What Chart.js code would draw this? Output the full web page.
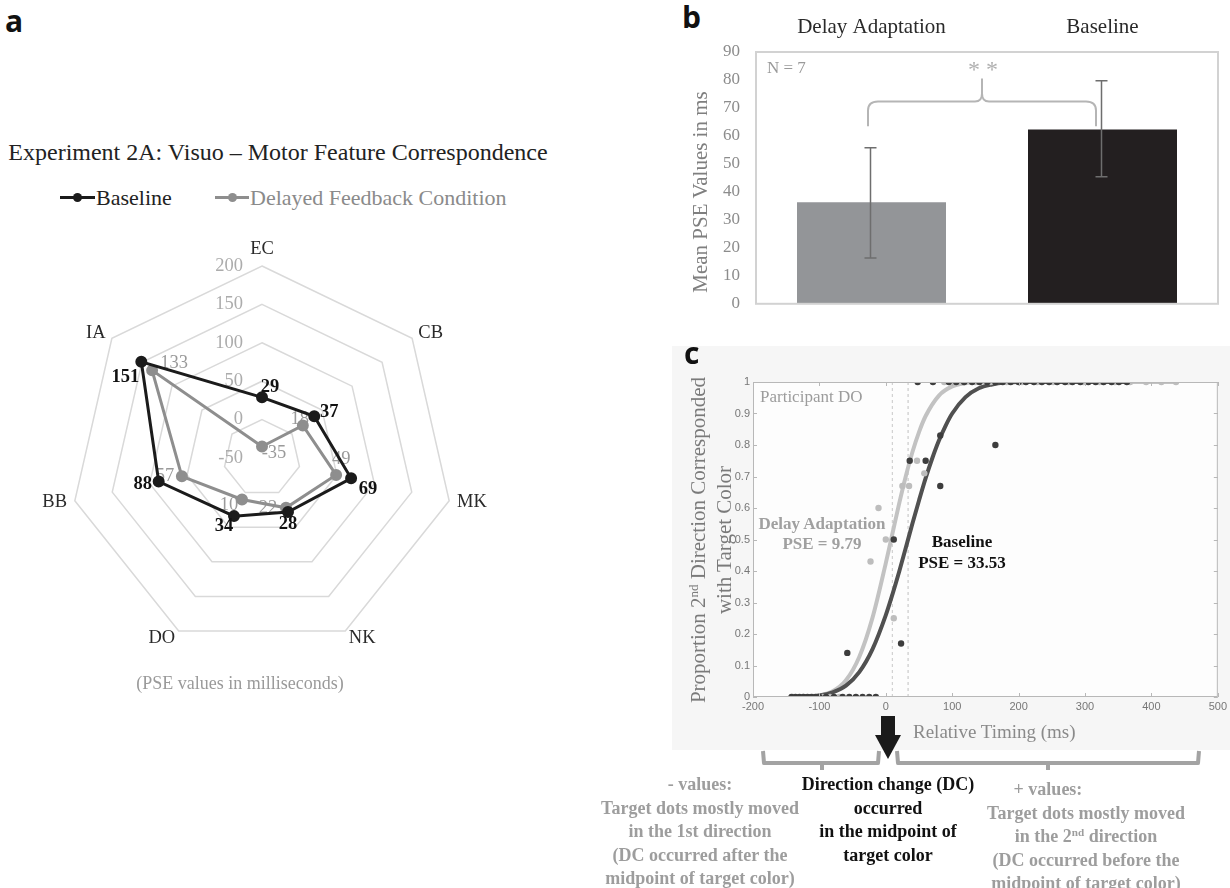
<!DOCTYPE html>
<html>
<head>
<meta charset="utf-8">
<script src="https://cdn.jsdelivr.net/npm/chart.js@4.4.1/dist/chart.umd.min.js"></script>
<style>
  body { margin: 0; width: 1230px; height: 888px; background: #fff; position: relative; overflow: hidden;
         font-family: "Liberation Serif", "Times New Roman", serif; }
  .abs { position: absolute; white-space: nowrap; font-family: "Liberation Serif", "Times New Roman", serif; }
  .letter { font-family: "Open Sans", "Liberation Sans", sans-serif; font-weight: 700; font-size: 30px; line-height: 30px; color: #111; }
  .rot { position: absolute; transform: rotate(-90deg); text-align: center; white-space: nowrap; font-family: "Liberation Serif", "Times New Roman", serif; }
  .note { font-weight: 700; font-size: 18px; line-height: 23.5px; text-align: center; }
  sup { font-size: 0.62em; line-height: 0; vertical-align: 0.55em; }
</style>
</head>
<body>

<!-- panel a -->
<div class="abs letter" style="left:5px; top:6px;">a</div>
<div class="abs" style="left:0; top:139px; width:556px; text-align:center; font-size:24px; line-height:26px; color:#222;">Experiment 2A: Visuo – Motor Feature Correspondence</div>
<div class="abs" style="left:60px; top:196px; width:35px; height:3px; background:#1b1b1b;"></div>
<div class="abs" style="left:73px; top:193px; width:9px; height:9px; border-radius:50%; background:#1b1b1b;"></div>
<div class="abs" style="left:96px; top:185px; font-size:22px; line-height:26px; color:#222;">Baseline</div>
<div class="abs" style="left:215px; top:196px; width:34px; height:3px; background:#8e8e8e;"></div>
<div class="abs" style="left:228px; top:193px; width:9px; height:9px; border-radius:50%; background:#8e8e8e;"></div>
<div class="abs" style="left:250px; top:185px; font-size:22px; line-height:26px; color:#8a8a8a;">Delayed Feedback Condition</div>
<canvas id="radar" class="abs" width="524" height="460" style="left:0; top:230px;"></canvas>
<div class="abs" style="left:40px; top:671px; width:400px; text-align:center; font-size:18px; line-height:24px; color:#9a9a9a;">(PSE values in milliseconds)</div>

<!-- panel b -->
<div class="abs letter" style="left:682px; top:2px;">b</div>
<canvas id="bars" class="abs" width="550" height="330" style="left:680px; top:0;"></canvas>
<div class="rot" style="left:590px; top:180px; width:220px; font-size:21px; line-height:24px; color:#7f7f7f;">Mean PSE Values in ms</div>

<!-- panel c -->
<div class="abs" style="left:672px; top:346px; width:558px; height:404px; background:#f6f6f6;"></div>
<div class="abs letter" style="left:684px; top:338px;">c</div>
<canvas id="curves" class="abs" width="550" height="400" style="left:680px; top:360px;"></canvas>
<div class="rot" style="left:531px; top:514px; width:360px; font-size:21px; line-height:26px; color:#7a7a7a;">Proportion 2<sup>nd</sup> Direction Corresponded<br>with Target Color</div>
<div class="abs" style="left:913px; top:721px; font-size:19px; line-height:22px; color:#8a8a8a;">Relative Timing (ms)</div>
<div class="abs" style="left:760px; top:387px; font-size:17px; line-height:20px; color:#9c9c9c;">Participant DO</div>
<div class="abs note" style="left:742px; top:514px; width:160px; font-size:17px; line-height:20px; color:#a0a0a0;">Delay Adaptation<br>PSE = 9.79</div>
<div class="abs note" style="left:882px; top:531px; width:160px; font-size:17px; line-height:21px; color:#111;">Baseline<br>PSE = 33.53</div>

<svg class="abs" style="left:0; top:0;" width="1230" height="888">
  <rect x="881" y="716" width="14" height="20" fill="#1a1a1a"/>
  <polygon points="875,735 901,735 888,759" fill="#1a1a1a"/>
  <polyline points="763,751 764,763 878,763 879,751" fill="none" stroke="#a3a3a3" stroke-width="4" stroke-linejoin="round"/>
  <line x1="822" y1="763" x2="822" y2="770" stroke="#a3a3a3" stroke-width="4"/>
  <polyline points="897,751 898,763 1198,763 1199,751" fill="none" stroke="#a3a3a3" stroke-width="4" stroke-linejoin="round"/>
  <line x1="1048" y1="763" x2="1048" y2="770" stroke="#a3a3a3" stroke-width="4"/>
</svg>

<div class="abs note" style="left:580px; top:773px; width:240px; color:#9d9d9d;">- values:<br>Target dots mostly moved<br>in the 1st direction<br>(DC occurred after the<br>midpoint of target color)</div>
<div class="abs note" style="left:778px; top:773px; width:220px; color:#111;">Direction change (DC)<br>occurred<br>in the midpoint of<br>target color</div>
<div class="abs note" style="left:968px; top:778px; width:160px; color:#9d9d9d;">+ values:</div>
<div class="abs note" style="left:966px; top:801.5px; width:240px; color:#9d9d9d;">Target dots mostly moved<br>in the 2<sup>nd</sup> direction<br>(DC occurred before the<br>midpoint of target color)</div>

<script>
// panel a: PSE values per participant
const radarAxes = ['EC', 'CB', 'MK', 'NK', 'DO', 'BB', 'IA'];
const baselinePSE = [29, 37, 69, 28, 34, 88, 151];
const delayedPSE = [-35, 18, 49, 22, 10, 57, 133];
const radarTicks = [-50, 0, 50, 100, 150, 200];

// panel b: group means with error bars
const barLabels = ['Delay Adaptation', 'Baseline'];
const barMeans = [36.3, 62.3];
const barErrLow = [16.4, 45.4];
const barErrHigh = [55.8, 79.7];
const barTicks = [0, 10, 20, 30, 40, 50, 60, 70, 80, 90];

// panel c: psychometric fits and observed proportions (participant DO)
const fitBaseX = [-140, -120, -100, -80, -60, -40, -20, 0, 10, 20, 30, 40, 50, 60, 70, 80, 90, 100, 120, 140, 160, 180, 200, 260, 367];
const fitBaseY = [0, 0.002, 0.005, 0.015, 0.036, 0.079, 0.152, 0.26, 0.326, 0.397, 0.473, 0.55, 0.624, 0.695, 0.758, 0.814, 0.861, 0.9, 0.952, 0.98, 0.992, 0.998, 1, 1, 1];
const fitDelayX = [-140, -120, -100, -80, -60, -40, -20, 0, 10, 20, 30, 40, 50, 60, 80, 100, 120, 140, 200, 300, 437];
const fitDelayY = [0, 0.001, 0.005, 0.018, 0.053, 0.127, 0.252, 0.425, 0.519, 0.613, 0.7, 0.777, 0.841, 0.892, 0.957, 0.986, 0.996, 0.999, 1, 1, 1];
const obsBaseX = [-142, -136, -130, -124, -118, -112, -106, -100, -90, -78, -65, -55, -45, -35, -25, -15,
                  -58, 12, 23, 36, 60, 82, 82, 165,
                  48, 71, 95, 106, 118, 130, 141, 153, 165, 176, 188, 200, 211, 223, 235, 246, 258, 270, 281, 293, 305, 316, 328, 340, 351, 363];
const obsBaseY = [0, 0, 0, 0, 0, 0, 0, 0, 0, 0, 0, 0, 0, 0, 0, 0,
                  0.14, 0.5, 0.17, 0.75, 0.75, 0.83, 0.67, 0.8,
                  1, 1, 1, 1, 1, 1, 1, 1, 1, 1, 1, 1, 1, 1, 1, 1, 1, 1, 1, 1, 1, 1, 1, 1, 1, 1];
const obsDelayX = [-140, -125, -110, -95, -84, -70,
                   -23, -11, 0, 12, 25, 35, 47, 58,
                   88, 112, 135, 158, 182, 205, 228, 252, 275, 298, 322, 345, 368, 392, 415, 437];
const obsDelayY = [0, 0, 0, 0, 0, 0,
                   0.43, 0.6, 0.5, 0.25, 0.67, 0.67, 0.75, 0.71,
                   1, 1, 1, 1, 1, 1, 1, 1, 1, 1, 1, 1, 1, 1, 1, 1];
const pseDelay = 9.79;
const pseBase = 33.53;
const timingTicks = [-200, -100, 0, 100, 200, 300, 400, 500];
const propTicks = [0, 0.1, 0.2, 0.3, 0.4, 0.5, 0.6, 0.7, 0.8, 0.9, 1];

const SERIF = '"Liberation Serif", "Times New Roman", serif';
const pairs = (xs, ys) => xs.map((x, i) => ({ x: x, y: ys[i] }));

// ---------- panel a ----------
// label offsets (px) from each point, same order as radarAxes
const baseLabelOff = [[8, -10], [15, -4], [17, 11], [0, 12], [-10, 10], [-16, 3], [-16, 15]];
const delayLabelOff = [[12, 7], [-3, -6], [5, -16], [-18, 0], [-13, 6], [-17, 0], [22, -7]];

const radarText = {
    id: 'radarText',
    beforeDatasetsDraw(chart) {
        const r = chart.scales.r;
        const ctx = chart.ctx;
        ctx.save();
        ctx.font = '18.5px ' + SERIF;
        ctx.fillStyle = '#acacac';
        ctx.textAlign = 'right';
        ctx.textBaseline = 'middle';
        radarTicks.forEach(v => {
            ctx.fillText(String(v), r.xCenter - 19, r.yCenter - r.getDistanceFromCenterForValue(v));
        });
        // axis names
        ctx.fillStyle = '#2a2a2a';
        radarAxes.forEach((name, i) => {
            const p = r.getPointPosition(i, r.drawingArea + 8);
            const dx = p.x - r.xCenter;
            ctx.textAlign = Math.abs(dx) < 2 ? 'center' : (dx > 0 ? 'left' : 'right');
            ctx.textBaseline = Math.abs(dx) < 2 ? 'bottom' : 'middle';
            ctx.fillText(name, p.x, p.y);
        });
        // delayed values (grey, under the lines)
        ctx.fillStyle = '#9a9a9a';
        ctx.textAlign = 'center';
        ctx.textBaseline = 'middle';
        delayedPSE.forEach((v, i) => {
            const p = r.getPointPositionForValue(i, v);
            ctx.fillText(String(v), p.x + delayLabelOff[i][0], p.y + delayLabelOff[i][1]);
        });
        ctx.restore();
    },
    afterDatasetsDraw(chart) {
        const r = chart.scales.r;
        const ctx = chart.ctx;
        ctx.save();
        ctx.font = 'bold 18.5px ' + SERIF;
        ctx.fillStyle = '#111';
        ctx.textAlign = 'center';
        ctx.textBaseline = 'middle';
        baselinePSE.forEach((v, i) => {
            const p = r.getPointPositionForValue(i, v);
            ctx.fillText(String(v), p.x + baseLabelOff[i][0], p.y + baseLabelOff[i][1]);
        });
        ctx.restore();
    }
};

new Chart(document.getElementById('radar'), {
    type: 'radar',
    data: {
        labels: radarAxes,
        datasets: [{
            label: 'Baseline',
            data: baselinePSE,
            borderColor: '#1b1b1b',
            backgroundColor: '#1b1b1b',
            pointBackgroundColor: '#1b1b1b',
            pointBorderColor: '#1b1b1b',
            borderWidth: 3,
            pointRadius: 4.5,
            fill: false
        }, {
            label: 'Delayed Feedback Condition',
            data: delayedPSE,
            borderColor: '#8e8e8e',
            backgroundColor: '#8e8e8e',
            pointBackgroundColor: '#8e8e8e',
            pointBorderColor: '#8e8e8e',
            borderWidth: 3,
            pointRadius: 4.5,
            fill: false
        }]
    },
    options: {
        responsive: false,
        animation: false,
        layout: { padding: { left: 70, right: 70, top: 36, bottom: 40 } },
        plugins: { legend: { display: false }, tooltip: { enabled: false } },
        scales: {
            r: {
                min: -50,
                max: 200,
                ticks: { display: false, stepSize: 50 },
                pointLabels: { display: false },
                angleLines: { display: false },
                grid: { color: '#d9d9d9', lineWidth: 1.5 }
            }
        }
    },
    plugins: [radarText]
});

// ---------- panel b ----------
const barExtras = {
    id: 'barExtras',
    afterDatasetsDraw(chart) {
        const ctx = chart.ctx;
        const x = chart.scales.x;
        const y = chart.scales.y;
        const area = chart.chartArea;
        ctx.save();
        // frame
        ctx.strokeStyle = '#d2d2d2';
        ctx.lineWidth = 2;
        ctx.strokeRect(area.left, area.top, area.right - area.left, area.bottom - area.top);
        // error bars
        ctx.strokeStyle = '#6e6e6e';
        ctx.lineWidth = 1.5;
        barMeans.forEach((m, i) => {
            const cx = x.getPixelForValue(i) - 1;
            const yl = y.getPixelForValue(barErrLow[i]);
            const yh = y.getPixelForValue(barErrHigh[i]);
            ctx.beginPath();
            ctx.moveTo(cx, yl); ctx.lineTo(cx, yh);
            ctx.moveTo(cx - 6, yl); ctx.lineTo(cx + 6, yl);
            ctx.moveTo(cx - 6, yh); ctx.lineTo(cx + 6, yh);
            ctx.stroke();
        });
        // significance brace
        const xl = x.getPixelForValue(0) - 3.5;
        const xr = x.getPixelForValue(1) - 6.5;
        const xm = (xl + xr) / 2;
        const yEnd = y.getPixelForValue(63.5);
        const yMid = y.getPixelForValue(72.3);
        const yPeak = y.getPixelForValue(80.5);
        ctx.strokeStyle = '#b5b5b5';
        ctx.lineWidth = 2;
        ctx.beginPath();
        ctx.moveTo(xl, yEnd);
        ctx.lineTo(xl, yMid + 9);
        ctx.quadraticCurveTo(xl, yMid, xl + 10, yMid);
        ctx.lineTo(xm - 7, yMid);
        ctx.quadraticCurveTo(xm, yMid, xm, yMid - 8);
        ctx.lineTo(xm, yPeak);
        ctx.moveTo(xm, yMid - 8);
        ctx.quadraticCurveTo(xm, yMid, xm + 7, yMid);
        ctx.lineTo(xr - 10, yMid);
        ctx.quadraticCurveTo(xr, yMid, xr, yMid + 9);
        ctx.lineTo(xr, yEnd);
        ctx.stroke();
        ctx.fillStyle = '#b0b0b0';
        ctx.font = '24px ' + SERIF;
        ctx.textAlign = 'center';
        ctx.textBaseline = 'middle';
        ctx.fillText('* *', xm + 1, y.getPixelForValue(83.2));
        ctx.fillStyle = '#9a9a9a';
        ctx.font = '17px ' + SERIF;
        ctx.textAlign = 'left';
        ctx.fillText('N = 7', area.left + 11, y.getPixelForValue(84));
        ctx.restore();
    }
};

new Chart(document.getElementById('bars'), {
    type: 'bar',
    data: {
        labels: barLabels,
        datasets: [{
            data: barMeans,
            backgroundColor: ['#939598', '#231f20'],
            barPercentage: 0.645,
            categoryPercentage: 1
        }]
    },
    options: {
        responsive: false,
        animation: false,
        layout: { padding: { left: 0, right: 12, top: 0, bottom: 20 } },
        plugins: { legend: { display: false }, tooltip: { enabled: false } },
        scales: {
            x: {
                position: 'top',
                grid: { display: false, drawTicks: false },
                border: { display: false },
                ticks: { color: '#2a2a2a', font: { family: SERIF, size: 21 }, padding: 12 },
                afterFit: s => { s.height = 52; }
            },
            y: {
                min: 0,
                max: 90,
                afterBuildTicks: s => { s.ticks = barTicks.map(v => ({ value: v })); },
                ticks: { color: '#8c8c8c', font: { family: SERIF, size: 17 }, padding: 16 },
                grid: { display: false, drawTicks: false },
                border: { display: false },
                afterFit: s => { s.width = 76; }
            }
        }
    },
    plugins: [barExtras]
});

// ---------- panel c ----------
const curveFrame = {
    id: 'curveFrame',
    beforeDatasetsDraw(chart) {
        const a = chart.chartArea;
        const ctx = chart.ctx;
        ctx.save();
        ctx.fillStyle = '#fdfdfd';
        ctx.fillRect(a.left, a.top, a.right - a.left, a.bottom - a.top);
        ctx.restore();
    },
    afterDraw(chart) {
        const a = chart.chartArea;
        const ctx = chart.ctx;
        const x = chart.scales.x;
        const y = chart.scales.y;
        ctx.save();
        ctx.strokeStyle = '#b8b8b8';
        ctx.lineWidth = 1;
        ctx.strokeRect(a.left + 0.5, a.top + 0.5, a.right - a.left - 1, a.bottom - a.top - 1);
        ctx.beginPath();
        timingTicks.forEach(v => {
            const px = Math.round(x.getPixelForValue(v)) + 0.5;
            ctx.moveTo(px, a.bottom); ctx.lineTo(px, a.bottom - 4);
            ctx.moveTo(px, a.top); ctx.lineTo(px, a.top + 4);
        });
        propTicks.forEach(v => {
            const py = Math.round(y.getPixelForValue(v)) + 0.5;
            ctx.moveTo(a.left, py); ctx.lineTo(a.left + 4, py);
            ctx.moveTo(a.right, py); ctx.lineTo(a.right - 4, py);
        });
        ctx.stroke();
        ctx.restore();
    }
};

new Chart(document.getElementById('curves'), {
    type: 'scatter',
    data: {
        datasets: [{
            data: pairs(obsBaseX, obsBaseY),
            pointRadius: 3.2,
            pointBackgroundColor: '#3d3d3d',
            pointBorderWidth: 0
        }, {
            data: pairs(obsDelayX, obsDelayY),
            pointRadius: 3.2,
            pointBackgroundColor: '#bdbdbd',
            pointBorderWidth: 0
        }, {
            data: pairs(fitBaseX, fitBaseY),
            showLine: true,
            borderColor: '#505050',
            borderWidth: 4,
            pointRadius: 0,
            cubicInterpolationMode: 'monotone'
        }, {
            data: pairs(fitDelayX, fitDelayY),
            showLine: true,
            borderColor: '#c2c2c2',
            borderWidth: 4,
            pointRadius: 0,
            cubicInterpolationMode: 'monotone'
        }, {
            data: [{ x: pseDelay, y: 0 }, { x: pseDelay, y: 1 }],
            showLine: true,
            borderColor: '#c8c8c8',
            borderWidth: 1,
            borderDash: [3, 3],
            pointRadius: 0
        }, {
            data: [{ x: pseBase, y: 0 }, { x: pseBase, y: 1 }],
            showLine: true,
            borderColor: '#c0c0c0',
            borderWidth: 1,
            borderDash: [3, 3],
            pointRadius: 0
        }]
    },
    options: {
        responsive: false,
        animation: false,
        layout: { padding: { left: 0, right: 10, top: 22, bottom: 0 } },
        plugins: { legend: { display: false }, tooltip: { enabled: false } },
        scales: {
            x: {
                type: 'linear',
                min: -200,
                max: 500,
                afterBuildTicks: s => { s.ticks = timingTicks.map(v => ({ value: v })); },
                grid: { display: false, drawTicks: false },
                border: { display: false },
                ticks: { color: '#777', font: { family: '"Liberation Sans", sans-serif', size: 11 }, padding: 3 },
                afterFit: s => { s.height = 63; }
            },
            y: {
                min: 0,
                max: 1,
                afterBuildTicks: s => { s.ticks = propTicks.map(v => ({ value: v })); },
                grid: { display: false, drawTicks: false },
                border: { display: false },
                ticks: { color: '#777', font: { family: '"Liberation Sans", sans-serif', size: 11 }, padding: 3,
                         callback: v => String(+v.toFixed(1)) },
                afterFit: s => { s.width = 73; }
            }
        }
    },
    plugins: [curveFrame]
});
</script>
</body>
</html>
